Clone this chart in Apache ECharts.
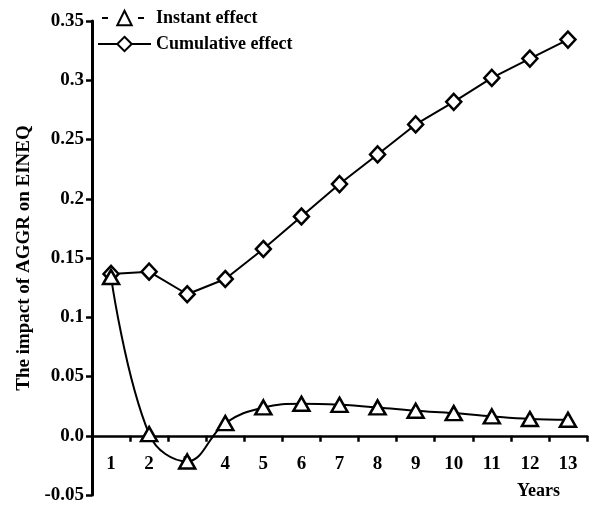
<!DOCTYPE html>
<html><head><meta charset="utf-8">
<script src="https://cdn.jsdelivr.net/npm/echarts@6/dist/echarts.min.js"></script>
<style>html,body{margin:0;padding:0;background:#fff}#c{width:589px;height:508px}</style>
</head><body><div id="c"></div>
<script>
const years = ['1','2','3','4','5','6','7','8','9','10','11','12','13'];
const instantEffect = [0.134, 0.0014, -0.0217, 0.0107, 0.0239, 0.027, 0.0261, 0.0239, 0.0211, 0.0191, 0.0163, 0.0141, 0.0135];
const cumulativeEffect = [0.1366, 0.1385, 0.1194, 0.1323, 0.1576, 0.185, 0.2124, 0.2374, 0.2627, 0.2818, 0.302, 0.3183, 0.3343];
const yTicks = {min: -0.05, max: 0.35, step: 0.05};

const font = '"Liberation Serif", "Times New Roman", serif';
const gridTop = 21, gridBottom = 13, H = 508;
const plotH = H - gridTop - gridBottom;
const zeroFromBottom = plotH * (0 - yTicks.min) / (yTicks.max - yTicks.min);

const chart = echarts.init(document.getElementById('c'), null, {renderer: 'canvas'});
chart.setOption({
  animation: false,
  backgroundColor: '#fff',
  grid: {left: 92, right: 2, top: gridTop, bottom: gridBottom, containLabel: false, outerBoundsMode: 'none'},
  legend: {
    orient: 'vertical', left: 92, top: 4, itemGap: 8, itemWidth: 53, itemHeight: 18,
    textStyle: {fontFamily: font, fontSize: 18, fontWeight: 'bold', color: '#000'},
    data: [
      {name: 'Instant effect', lineStyle: {type: [6, 30], dashOffset: -4, width: 2}},
      {name: 'Cumulative effect', lineStyle: {width: 2}}
    ]
  },
  xAxis: {
    type: 'category', data: years, boundaryGap: true, position: 'bottom', offset: -zeroFromBottom,
    axisLine: {onZero: false, lineStyle: {color: '#000', width: 2.5}},
    axisTick: {show: true, length: 6, inside: false, lineStyle: {color: '#000', width: 2.5}},
    axisLabel: {margin: 19, fontFamily: font, fontSize: 19, fontWeight: 'bold', color: '#000'},
    splitLine: {show: false}
  },
  yAxis: {
    type: 'value', min: yTicks.min, max: yTicks.max, interval: yTicks.step,
    name: 'The impact of AGGR on EINEQ', nameLocation: 'middle', nameGap: 48,
    nameTextStyle: {fontFamily: font, fontSize: 19, fontWeight: 'bold', color: '#000'},
    axisLine: {show: true, lineStyle: {color: '#000', width: 3}},
    axisTick: {show: true, length: 6, lineStyle: {color: '#000', width: 2.5}},
    axisLabel: {margin: 8, fontFamily: font, fontSize: 19, fontWeight: 'bold', color: '#000',
      formatter: v => Math.abs(v) < 1e-9 ? '0.0' : String(+v.toFixed(2))},
    splitLine: {show: false}
  },
  graphic: [{type: 'text', left: 517, top: 482, style: {text: 'Years', font: 'bold 18px ' + font, fill: '#000'}}],
  series: [
    {name: 'Instant effect', type: 'line', data: instantEffect, smooth: 0.4,
      symbol: 'triangle', symbolSize: [16, 14],
      lineStyle: {color: '#000', width: 2},
      itemStyle: {color: '#fff', borderColor: '#000', borderWidth: 2.5}, z: 3},
    {name: 'Cumulative effect', type: 'line', data: cumulativeEffect, smooth: false,
      symbol: 'diamond', symbolSize: [15, 16],
      lineStyle: {color: '#000', width: 2},
      itemStyle: {color: '#fff', borderColor: '#000', borderWidth: 2.5}, z: 2}
  ]
});
</script></body></html>
